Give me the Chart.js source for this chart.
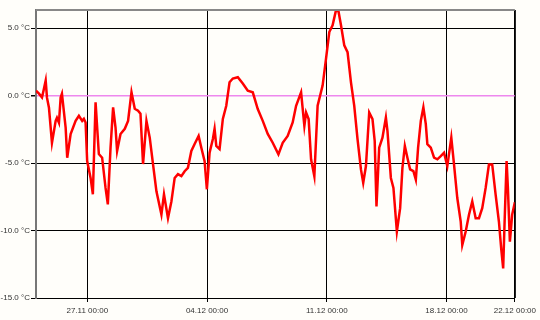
<!DOCTYPE html>
<html>
<head>
<meta charset="utf-8">
<script src="https://cdn.jsdelivr.net/npm/chart.js@4"></script>
<style>
  html, body { margin: 0; padding: 0; background: #fffefa; }
  #wrap { width: 540px; height: 320px; }
</style>
</head>
<body>
<div id="wrap"><canvas id="temp-chart"></canvas></div>
<script>
// Hours since 24.11 00:00
const hours = [0, 4.2, 8.4, 11.2, 13.6, 15.4, 18.2, 22.4, 27.6, 29.4, 32.2, 34.6, 36.4, 41.6, 43.8, 48.6,
    55.6, 60.2, 64.8, 67.2, 69.6, 71.8, 76.6, 79.8, 83.6, 88.2, 92.8, 97.6, 100.8, 104.6, 108.2, 111.6,
    113.8, 118.6, 124.6, 129.2, 134, 138.6, 143.2, 146.6, 150.2, 155, 159.6, 164.2, 169, 176, 179.6,
    185.2, 190, 194.6, 199.2, 204, 208.6, 213.2, 218, 222.6, 228.2, 232, 236.6, 239.8, 243.6, 248.2,
    250.6, 253, 257.6, 262.2, 267, 271.6, 276.2, 283.2, 290.2, 297.2, 304.2, 311.2, 318.2, 325.2, 332.2,
    340.2, 346.2, 353.2, 360.2, 365, 372, 376.6, 379, 382.6, 386, 390.6, 395.2, 402.2, 407, 411.6, 416.2,
    421, 424.6, 428, 432.6, 437.2, 442, 446.6, 451.2, 456, 459.2, 463, 467.6, 472.2, 475.3, 477.8, 481.6,
    486.2, 491, 493.2, 498, 501.6, 506.4, 511, 514.2, 517.6, 521.2, 525, 529.6, 533, 536.2, 540, 543.6,
    547, 549.2, 554, 558.6, 563.2, 568, 572.6, 577.2, 582.8, 586.6, 591.2, 596, 598.2, 603, 607.6, 612.2,
    617, 621.6, 626.2, 631, 635.6, 640.2, 645, 649.6, 652.8, 655.6, 657.6, 660.4, 662.2, 665, 668.2, 672];

// Temperature in °C
const temps = [0.37, 0.15, -0.13, 0.52, 1.12, -0.15, -0.9, -3.5, -1.87, -1.64, -2.01, -0.13, 0.15, -2.37, -4.6, -2.84,
    -1.87, -1.49, -1.87, -1.72, -1.99, -4.85, -6.1, -7.31, -0.5, -4.33, -4.6, -6.84, -8.06, -3.86, -0.87, -2.37,
    -4.1, -2.84, -2.46, -1.87, 0.25, -0.97, -1.12, -1.34, -5.07, -1.87, -3.11, -5.07, -7.09, -8.81, -7.31,
    -9.08, -7.84, -6.1, -5.82, -5.97, -5.6, -5.35, -4.1, -3.58, -2.99, -3.86, -4.85, -6.94, -4.23, -3.21,
    -2.46, -3.73, -3.96, -1.72, -0.75, 0.99, 1.27, 1.37, 0.9, 0.37, 0.25, -0.99, -1.87, -2.84, -3.49,
    -4.35, -3.49, -2.99, -1.99, -0.75, 0.25, -2.24, -1.25, -1.74, -4.72, -5.97, -0.75, 0.75, 2.74, 4.72, 5.22,
    6.34, 6.22, 5.22, 3.73, 3.23, 0.99, -0.75, -3.23, -5.47, -6.47, -5.22, -1.25, -1.74, -3.36, -8.21, -3.86,
    -3.11, -1.62, -2.61, -6.1, -6.84, -10.07, -8.34, -5.35, -3.73, -4.6, -5.47, -5.6, -6.22, -3.86, -1.87, -0.87,
    -2.11, -3.6, -3.86, -4.6, -4.72, -4.48, -4.23, -5.22, -3.11, -5.1, -7.59, -9.33, -11.07, -10.07, -8.83, -7.84,
    -9.08, -9.08, -8.34, -6.84, -5.1, -5.1, -7.34, -9.33, -11.32, -12.81, -9.33, -4.85, -6.84, -10.82, -8.83, -7.9];

// Axis ticks
const xTickHours = [72, 240, 408, 576, 672];
const xTickLabels = ['27.11 00:00', '04.12 00:00', '11.12 00:00', '18.12 00:00', '22.12 00:00'];
const yTicks = [-15, -10, -5, 0, 5];

const points = hours.map((h, i) => ({ x: h, y: temps[i] }));

// Draws the top and right edges of the plot frame
const framePlugin = {
    id: 'frame',
    afterDraw(chart) {
        const { ctx, chartArea: a } = chart;
        ctx.save();
        ctx.lineWidth = 2;
        ctx.strokeStyle = '#888888';
        ctx.beginPath();
        ctx.moveTo(a.left, a.top);
        ctx.lineTo(a.right, a.top);
        ctx.stroke();
        ctx.lineWidth = 1;
        ctx.strokeStyle = '#000000';
        ctx.beginPath();
        ctx.moveTo(a.right + 0.5, a.top);
        ctx.lineTo(a.right + 0.5, a.bottom);
        ctx.stroke();
        ctx.restore();
    }
};

new Chart(document.getElementById('temp-chart'), {
    type: 'line',
    data: {
        datasets: [{
            data: points,
            borderColor: '#ff0000',
            borderWidth: 2.5,
            pointRadius: 0,
            tension: 0
        }]
    },
    options: {
        responsive: true,
        maintainAspectRatio: false,
        devicePixelRatio: 1,
        animation: false,
        layout: { padding: { top: 10, right: 25, left: 0, bottom: 0 } },
        plugins: { legend: { display: false }, tooltip: { enabled: false } },
        scales: {
            x: {
                type: 'linear',
                min: 0,
                max: 672,
                afterBuildTicks: axis => { axis.ticks = xTickHours.map(v => ({ value: v })); },
                afterFit: axis => { axis.height = 22; },
                ticks: {
                    autoSkip: false,
                    maxRotation: 0,
                    padding: 4,
                    color: '#333',
                    font: { family: 'Liberation Sans', size: 8 },
                    callback: v => xTickLabels[xTickHours.indexOf(v)]
                },
                grid: { color: '#000', tickLength: 4, tickColor: '#000' },
                border: { color: '#000', width: 1 }
            },
            y: {
                min: -15,
                max: 6.35,
                afterBuildTicks: axis => { axis.ticks = yTicks.map(v => ({ value: v })); },
                afterFit: axis => { axis.width = 36; },
                ticks: {
                    padding: 1,
                    color: '#333',
                    font: { family: 'Liberation Sans', size: 8 },
                    callback: v => v.toFixed(1) + ' °C'
                },
                grid: {
                    color: c => c.tick && c.tick.value === 0 ? '#ee88ee' : '#000',
                    lineWidth: c => c.tick && c.tick.value === 0 ? 1.5 : 1,
                    tickLength: 5,
                    tickColor: '#000'
                },
                border: { color: '#777', width: 2 }
            }
        }
    },
    plugins: [framePlugin]
});
</script>
</body>
</html>
